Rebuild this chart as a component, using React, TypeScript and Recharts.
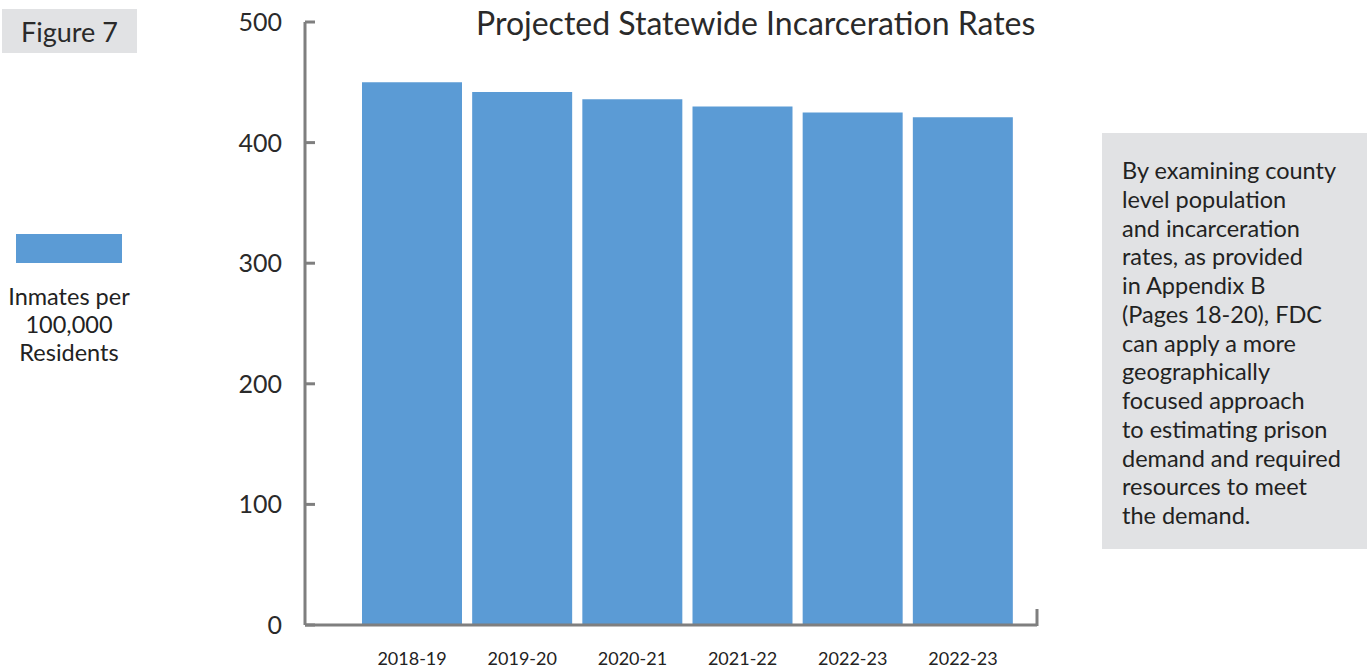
import React from 'react';
import { BarChart, Bar, XAxis, YAxis, usePlotArea } from 'recharts';

const years = ['2018-19', '2019-20', '2020-21', '2021-22', '2022-23', '2022-23'];
const rates = [450, 442, 436, 430, 425, 421];
const yTicks = [0, 100, 200, 300, 400, 500];

const data = years.map((year, i) => ({ year, rate: rates[i] }));

const noteLines = [
  'By examining county',
  'level population',
  'and incarceration',
  'rates, as provided',
  'in Appendix B',
  '(Pages 18-20), FDC',
  'can apply a more',
  'geographically',
  'focused approach',
  'to estimating prison',
  'demand and required',
  'resources to meet',
  'the demand.'
];

const FONT = 'Lato, "Open Sans", sans-serif';
const AXIS_GRAY = '#7f7f7f';
const BAR_BLUE = '#5b9bd5';
const BOX_GRAY = '#e1e2e4';
const Y_MARGIN = 23;

const YTick = (props: any) => {
  const { x, y, payload } = props;
  return (
    <g>
      <line x1={x + Y_MARGIN} x2={x + Y_MARGIN + 10} y1={y} y2={y} stroke={AXIS_GRAY} strokeWidth={3} />
      <text x={x} y={y} dy={9} textAnchor="end" fontSize={25} fill="#2a2a2a" fontFamily={FONT}>
        {payload.value}
      </text>
    </g>
  );
};

const XTick = (props: any) => {
  const { x, y, payload } = props;
  return (
    <text x={x} y={y} dy={32} textAnchor="middle" fontSize={18} fill="#222" fontFamily={FONT}>
      {payload.value}
    </text>
  );
};

// small upturned tick at the right end of the x axis
const EndTick = () => {
  const area = usePlotArea();
  if (!area) return null;
  const xr = area.x + area.width;
  const yb = area.y + area.height;
  return <line x1={xr} x2={xr} y1={yb + 1} y2={yb - 16} stroke={AXIS_GRAY} strokeWidth={3} />;
};

const App: React.FC = () => {
  return (
    <div style={{ position: 'absolute', top: 0, left: 0, width: 1367, height: 668, background: '#fff', fontFamily: FONT }}>
      <div
        style={{
          position: 'absolute', left: 2, top: 9, width: 135, height: 44, background: BOX_GRAY,
          display: 'flex', alignItems: 'center', justifyContent: 'center', fontSize: 27, color: '#2a2a2a'
        }}
      >
        Figure 7
      </div>

      <div style={{ position: 'absolute', left: 16, top: 234, width: 106, height: 29, background: BAR_BLUE }} />
      <div
        style={{
          position: 'absolute', left: 0, top: 282, width: 138, textAlign: 'center',
          fontSize: 23.5, lineHeight: '28px', color: '#222'
        }}
      >
        Inmates per<br />100,000<br />Residents
      </div>

      <div
        style={{
          position: 'absolute', left: 476, top: 3, fontSize: 32, color: '#2a2a2a', whiteSpace: 'nowrap'
        }}
      >
        Projected Statewide Incarceration Rates
      </div>

      <div
        style={{
          position: 'absolute', left: 1102, top: 133, width: 265, height: 416, background: BOX_GRAY,
          boxSizing: 'border-box', padding: '23px 0 0 20px', fontSize: 23.5, lineHeight: '28.75px', color: '#222'
        }}
      >
        {noteLines.map((l, i) => (
          <div key={i} style={{ whiteSpace: 'nowrap' }}>{l}</div>
        ))}
      </div>

      <div style={{ position: 'absolute', left: 0, top: 0 }}>
        <BarChart
          width={1367}
          height={668}
          data={data}
          margin={{ top: 22, right: 330, left: 245, bottom: 0 }}
        >
          <XAxis
            dataKey="year"
            height={43}
            tickLine={false}
            axisLine={{ stroke: AXIS_GRAY, strokeWidth: 3 }}
            tick={<XTick />}
            padding={{ left: 52, right: 19 }}
            interval={0}
          />
          <YAxis
            width={60}
            domain={[0, 500]}
            ticks={yTicks}
            tickSize={0}
            tickMargin={Y_MARGIN}
            axisLine={{ stroke: AXIS_GRAY, strokeWidth: 3 }}
            tick={<YTick />}
            interval={0}
          />
          <Bar dataKey="rate" fill={BAR_BLUE} barSize={100} isAnimationActive={false} />
          <EndTick />
        </BarChart>
      </div>
    </div>
  );
};

export default App;
